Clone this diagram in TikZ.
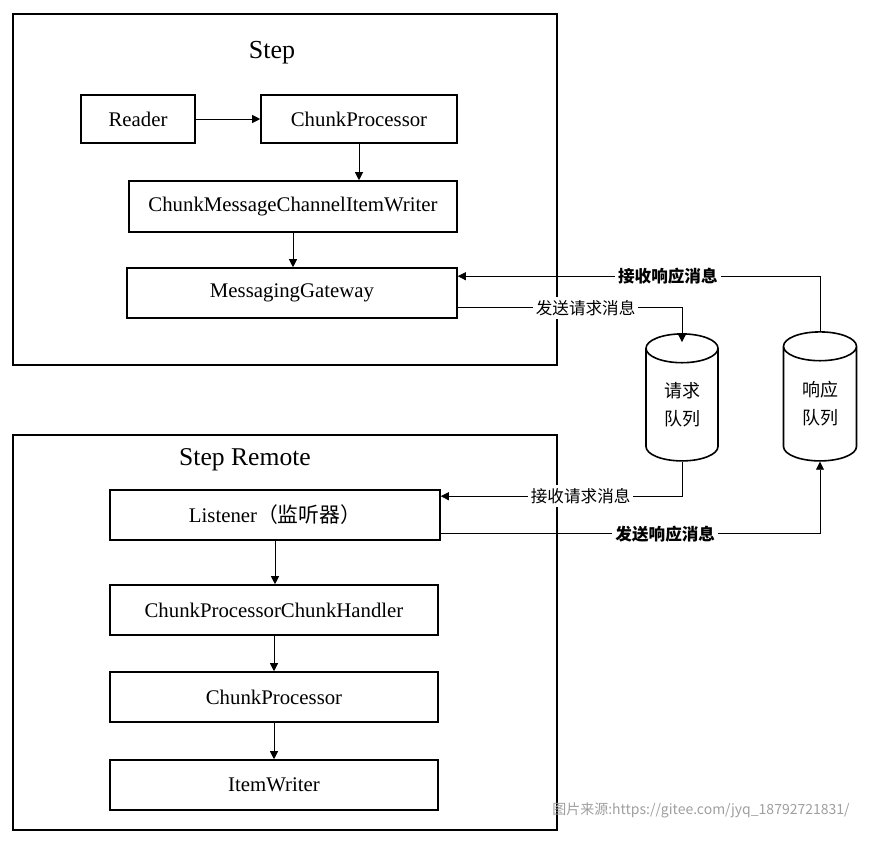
\documentclass[tikz,border=0pt]{standalone}
\usepackage{fontspec}
\setmainfont{Liberation Serif}
\newfontfamily\cjk{Noto Sans CJK SC}
\usepackage{tikz}
\usetikzlibrary{calc}
\usetikzlibrary{arrows.meta}
\usetikzlibrary{shapes.geometric}
\tikzstyle{blk}=[draw=black, line width=0.8pt, inner sep=0pt, font=\fontsize{10.4}{12}\selectfont]
\tikzstyle{arr}=[-{Triangle[length=4pt,width=4pt]}, line width=0.4pt]
\tikzstyle{msg}=[fill=white, inner sep=1.5pt, font=\cjk\fontsize{8.3}{10}\selectfont]
\tikzstyle{queue}=[cylinder, shape border rotate=90, draw=black, line width=0.8pt, aspect=0.8, align=center, inner sep=0pt, font=\cjk\fontsize{9}{14}\selectfont]
\newcommand{\stepBox}[6]{%
    \node [blk, minimum width={(#4-#2)*0.5pt}, minimum height={(#5-#3)*0.5pt}] (#1) at ({(#2+#4)/2},{(#3+#5)/2}) {#6};
}

\begin{document}
\begin{tikzpicture}[x=0.5pt, y=-0.5pt]
    \useasboundingbox (0,0) rectangle (873,842);

    %step
    \draw [line width=0.8pt] (13,14) rectangle (557,365);
    \node [font=\fontsize{13}{15}\selectfont] (steptitle) at (272,53) {Step};
    \stepBox{reader}{81}{95}{195}{143}{Reader}
    \stepBox{proc}{261}{95}{457}{143}{ChunkProcessor}
    \stepBox{cmciw}{129}{181}{457}{232}{ChunkMessageChannelItemWriter}
    \stepBox{gateway}{127}{268}{457}{318}{MessagingGateway}

    \draw [arr] (reader) -- (proc);
    \draw [arr] (proc) -- (proc |- cmciw.north);
    \draw [arr] (cmciw) -- (cmciw |- gateway.north);

    %step remote
    \draw [line width=0.8pt] (13,435) rectangle (557,830);
    \node [font=\fontsize{12.8}{15}\selectfont] (remotetitle) at (245,460) {Step Remote};
    \stepBox{listener}{110}{490}{440}{540}{Listener{\cjk（监听器）}}
    \stepBox{handler}{110}{585}{438}{635}{ChunkProcessorChunkHandler}
    \stepBox{rproc}{110}{672}{438}{722}{ChunkProcessor}
    \stepBox{writer}{110}{760}{438}{810}{ItemWriter}

    \foreach \a/\b in {listener/handler,handler/rproc,rproc/writer} {
    \draw [arr] (\a) -- (\a |- \b.north);
    }

    %queues
    \node [queue, minimum width=36pt, minimum height=63.5pt] (reqq) at (682,405) {请求\\队列};
    \node [queue, minimum width=36.5pt, minimum height=64.5pt] (respq) at (820,404) {响应\\队列};

    %messages
    \draw [arr] (respq.north) |- node [msg, font=\cjk\bfseries\fontsize{8.3}{10}\selectfont, pos=0.71] (recvresp) {接收响应消息} ($(gateway.north east)+(0,9)$);
    \draw [arr] ($(gateway.south east)+(0,-11)$) -| node [msg, pos=0.285] (sendreq) {发送请求消息} ($(reqq.north)+(0,9)$);
    \draw [arr] (reqq.south) |- node [msg, pos=0.71] (recvreq) {接收请求消息} ($(listener.north east)+(0,7)$);
    \draw [arr] ($(listener.south east)+(0,-7)$) -| node [msg, font=\cjk\bfseries\fontsize{8.3}{10}\selectfont, pos=0.296] (sendresp) {发送响应消息} (respq.south);

    \node [text=gray!75, font=\cjk\fontsize{7}{8}\selectfont] (source) at (701,810) {图片来源:https://gitee.com/jyq\_18792721831/};

\end{tikzpicture}
\end{document}
